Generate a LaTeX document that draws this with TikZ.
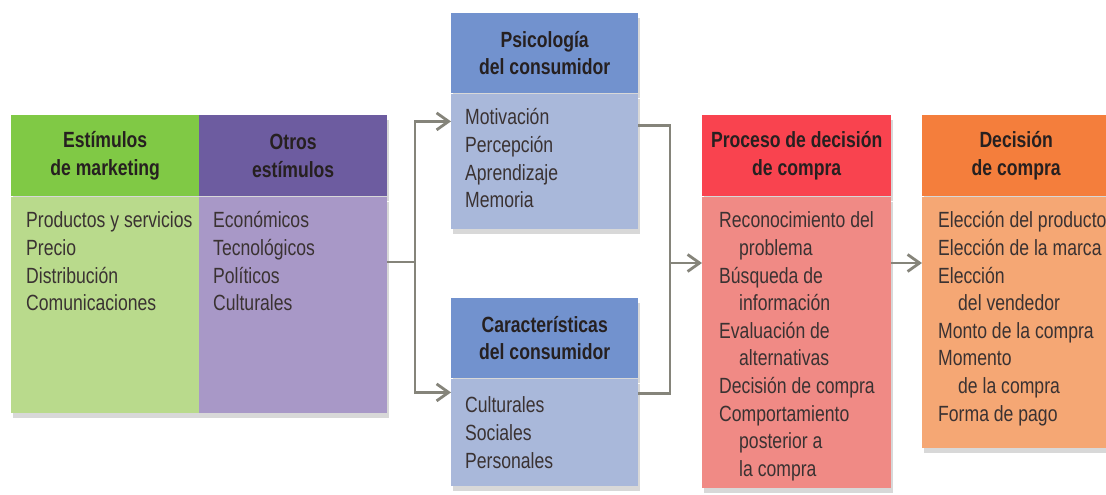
\documentclass[tikz,border=0pt]{standalone}
\usepackage{fontspec}
\setmainfont[FakeStretch=0.80]{Liberation Sans}
\usetikzlibrary{arrows.meta,shadows}

\definecolor{mkthd}{HTML}{80C945}
\definecolor{mktbd}{HTML}{B9DA8C}
\definecolor{otrhd}{HTML}{6D5CA0}
\definecolor{otrbd}{HTML}{A898C7}
\definecolor{psihd}{HTML}{7292CE}
\definecolor{psibd}{HTML}{A9B8DA}
\definecolor{prochd}{HTML}{F9434F}
\definecolor{procbd}{HTML}{F08A85}
\definecolor{dechd}{HTML}{F47E3C}
\definecolor{decbd}{HTML}{F5A774}
\definecolor{arrgray}{HTML}{85847A}
\definecolor{txtdark}{HTML}{262020}
\definecolor{txtbody}{HTML}{3A3232}

\tikzset{
  hd/.style={anchor=north west, inner sep=0, minimum width=188pt, minimum height=81pt,
    align=center, font=\fontsize{22}{27.6}\selectfont\bfseries, text=txtdark, boxshadow},
  bd/.style={anchor=north west, inner sep=0, minimum width=188pt, boxshadow},
  boxshadow/.style={drop shadow={shadow xshift=2pt, shadow yshift=-5pt, opacity=0.3}},
  lst/.style={anchor=north west, inner sep=0, align=left,
    font=\fontsize{22}{27.6}\selectfont, text=txtbody},
  ln/.style={draw=arrgray, line width=2.8pt},
  arr/.style={ln, -{Straight Barb[length=12pt,width=17pt]}},
}

\begin{document}
\begin{tikzpicture}[x=1pt, y=-1pt]
  \useasboundingbox (0,0) rectangle (1106,495);
  \clip (0,0) rectangle (1106,495);
  \fill[white] (0,0) rectangle (1106,495);

  % stimuli
  \node[hd, fill=mkthd] (mkth) at (11,115) {Estímulos\\de marketing};
  \node[bd, fill=mktbd, minimum height=216pt] (mktb) at (mkth.south west) {};
  \node[lst] (mktl) at ([shift={(15,12)}]mktb.north west)
    {\strut Productos y servicios\\Precio\\Distribución\\Comunicaciones};
  \node[hd, fill=otrhd] (otrh) at (199,115) {Otros\\estímulos};
  \node[bd, fill=otrbd, minimum height=216pt] (otrb) at (otrh.south west) {};
  \node[lst] (otrl) at ([shift={(14,12)}]otrb.north west)
    {\strut Económicos\\Tecnológicos\\Políticos\\Culturales};

  % consumer
  \node[hd, fill=psihd, minimum width=187pt, minimum height=80pt] (psih) at (451,13) {Psicología\\del consumidor};
  \node[bd, fill=psibd, minimum width=187pt, minimum height=135pt] (psib) at (psih.south west) {};
  \node[lst] (psil) at ([shift={(14,12)}]psib.north west)
    {\strut Motivación\\Percepción\\Aprendizaje\\Memoria};
  \node[hd, fill=psihd, minimum width=187pt, minimum height=80pt] (carh) at (451,298) {Características\\del consumidor};
  \node[bd, fill=psibd, minimum width=187pt, minimum height=107pt] (carb) at (carh.south west) {};
  \node[lst] (carl) at ([shift={(14,15)}]carb.north west)
    {\strut Culturales\\Sociales\\Personales};

  % decision process
  \node[hd, fill=prochd, minimum width=189pt] (proch) at (702,115) {Proceso de decisión\\de compra};
  \node[bd, fill=procbd, minimum width=189pt, minimum height=291pt] (procb) at (proch.south west) {};
  \node[lst] (procl) at ([shift={(17,12)}]procb.north west)
    {\strut Reconocimiento del\\\hspace*{20pt}problema\\Búsqueda de\\\hspace*{20pt}información\\
     Evaluación de\\\hspace*{20pt}alternativas\\Decisión de compra\\Comportamiento\\
     \hspace*{20pt}posterior a\\\hspace*{20pt}la compra};

  % buyer decision
  \node[hd, fill=dechd] (dech) at (922,115) {Decisión\\de compra};
  \node[bd, fill=decbd, minimum height=251pt] (decb) at (dech.south west) {};
  \node[lst] (decl) at ([shift={(16,12)}]decb.north west)
    {\strut Elección del producto\\Elección de la marca\\Elección\\\hspace*{20pt}del vendedor\\
     Monto de la compra\\Momento\\\hspace*{20pt}de la compra\\Forma de pago};

  % connectors
  \coordinate (jl) at (415,262);
  \coordinate (jr) at (670,263);
  \draw[ln] (otrb.east |- jl) -- (jl);
  \draw[arr] (jl) |- ([yshift=-28pt]psib.north west);
  \draw[arr] (jl) |- ([yshift=-14pt]carb.north west);
  \draw[ln] ([yshift=-32pt]psib.north east) -| (jr);
  \draw[ln] ([yshift=-15pt]carb.north east) -| (jr);
  \draw[arr] (jr) -- (procb.west |- jr);
  \draw[arr] (procb.east |- jr) -- (decb.west |- jr);
\end{tikzpicture}
\end{document}
